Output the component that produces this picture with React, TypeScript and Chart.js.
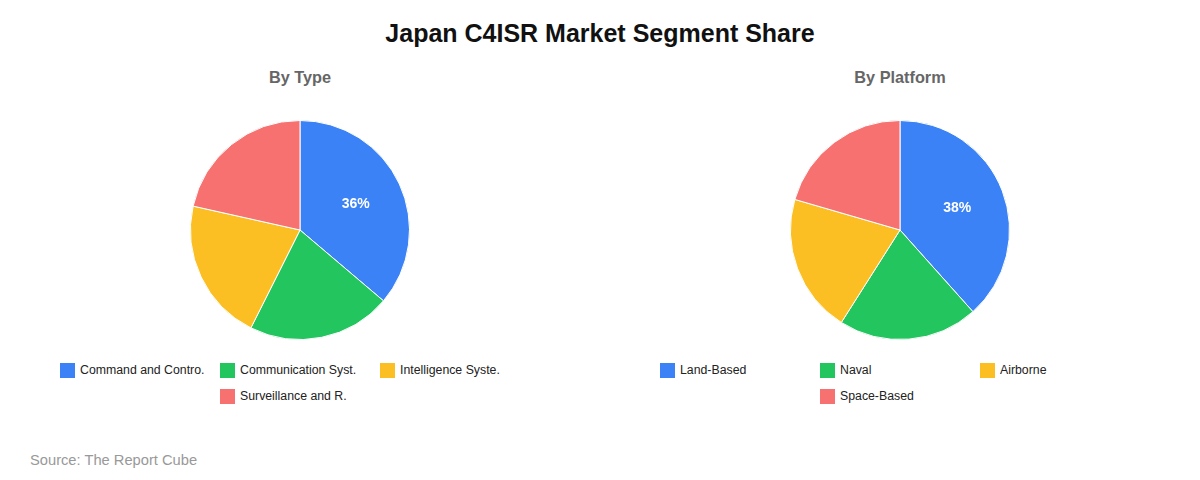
import React, { useEffect, useRef } from "react";
import Chart from "chart.js/auto";

const TITLE = "Japan C4ISR Market Segment Share";
const SOURCE = "Source: The Report Cube";

const typeTitle = "By Type";
const typeLabels = [
  "Command and Control",
  "Communication Systems",
  "Intelligence Systems",
  "Surveillance and Reconnaissance",
];
const typeValues = [36.2, 21.2, 21.1, 21.5];

const platformTitle = "By Platform";
const platformLabels = ["Land-Based", "Naval", "Airborne", "Space-Based"];
const platformValues = [38.4, 20.6, 20.5, 20.5];

const sliceColors = ["#3b82f6", "#22c55e", "#fbbf24", "#f87171"];

const FONT = '"Liberation Sans", Arial, Helvetica, sans-serif';

const shorten = (s: string) => (s.length > 18 ? s.slice(0, 18) + "." : s);

function Pie(props: { title: string; labels: string[]; values: number[]; left: number }) {
  const ref = useRef<HTMLCanvasElement | null>(null);
  useEffect(() => {
    if (!ref.current) return;
    const total = props.values.reduce((a, b) => a + b, 0);
    const labelPlugin = {
      id: "pctLabels",
      afterDatasetsDraw(chart: any) {
        const ctx = chart.ctx;
        const meta = chart.getDatasetMeta(0);
        ctx.save();
        ctx.font = `bold 14px ${FONT}`;
        ctx.fillStyle = "#ffffff";
        ctx.textAlign = "center";
        ctx.textBaseline = "middle";
        meta.data.forEach((arc: any, i: number) => {
          const pct = (props.values[i] / total) * 100;
          if (pct < 25) return;
          const p = arc.getProps(["x", "y", "startAngle", "endAngle", "outerRadius"], true);
          const mid = (p.startAngle + p.endAngle) / 2;
          const r = p.outerRadius * 0.56;
          ctx.fillText(Math.round(pct) + "%", p.x + Math.cos(mid) * r, p.y + Math.sin(mid) * r);
        });
        ctx.restore();
      },
    };
    const chart = new Chart(ref.current, {
      type: "pie",
      data: {
        labels: props.labels,
        datasets: [
          {
            data: props.values,
            backgroundColor: sliceColors,
            borderColor: "#ffffff",
            borderWidth: 1,
          },
        ],
      },
      options: {
        responsive: false,
        animation: false,
        devicePixelRatio: 1,
        layout: { padding: 0 },
        plugins: {
          legend: { display: false },
          tooltip: { enabled: false },
        },
      },
      plugins: [labelPlugin],
    });
    return () => chart.destroy();
  }, []);

  return (
    <div style={{ position: "absolute", left: props.left, top: 0, width: 600, height: 480 }}>
      <div
        style={{
          position: "absolute",
          top: 66,
          left: 0,
          width: 600,
          height: 22,
          lineHeight: "22px",
          textAlign: "center",
          fontWeight: "bold",
          fontSize: 16.3,
          color: "#666666",
        }}
      >
        {props.title}
      </div>
      <canvas
        ref={ref}
        width={600}
        height={220}
        style={{ position: "absolute", top: 120, left: 0, width: 600, height: 220 }}
      />
      <div
        style={{
          position: "absolute",
          top: 357,
          left: 60,
          width: 480,
          display: "flex",
          flexWrap: "wrap",
          justifyContent: "center",
        }}
      >
        {props.labels.map((l, i) => (
          <div
            key={l}
            style={{ width: 160, height: 26, display: "flex", alignItems: "center", fontSize: 12.3, color: "#222222" }}
          >
            <span
              style={{
                display: "inline-block",
                width: 15,
                height: 15,
                background: sliceColors[i],
                marginRight: 5,
                flexShrink: 0,
              }}
            />
            <span style={{ whiteSpace: "nowrap" }}>{shorten(l)}</span>
          </div>
        ))}
      </div>
    </div>
  );
}

export default function App() {
  return (
    <div
      style={{
        position: "fixed",
        left: 0,
        top: 0,
        width: 1200,
        height: 480,
        background: "#ffffff",
        fontFamily: FONT,
        overflow: "hidden",
      }}
    >
      <div
        style={{
          position: "absolute",
          top: 18,
          left: 0,
          width: 1200,
          height: 30,
          lineHeight: "30px",
          textAlign: "center",
          fontWeight: "bold",
          fontSize: 25,
          color: "#111111",
        }}
      >
        {TITLE}
      </div>
      <Pie title={typeTitle} labels={typeLabels} values={typeValues} left={0} />
      <Pie title={platformTitle} labels={platformLabels} values={platformValues} left={600} />
      <div
        style={{
          position: "absolute",
          left: 30,
          top: 450,
          height: 20,
          lineHeight: "20px",
          fontSize: 14.7,
          color: "#999999",
        }}
      >
        {SOURCE}
      </div>
    </div>
  );
}
